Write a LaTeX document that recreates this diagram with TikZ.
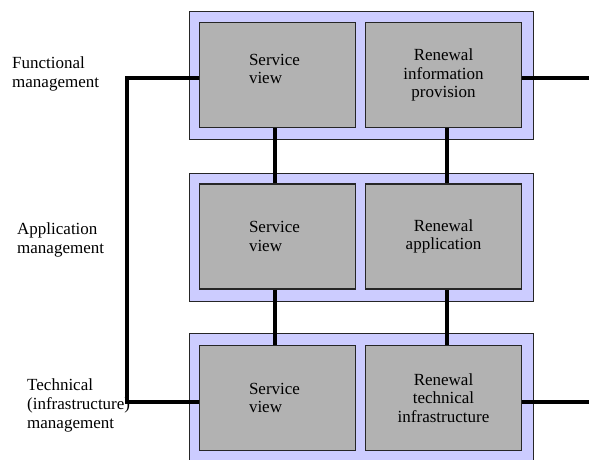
\documentclass[tikz,border=0pt]{standalone}
\usepackage{fontspec}
\setmainfont{Liberation Serif}
\definecolor{lav}{RGB}{204,204,255}
\definecolor{cellgray}{RGB}{178,178,178}
\begin{document}
\begin{tikzpicture}[x=1pt,y=-1pt,
  layer/.style={draw=black!85, line width=0.8pt, fill=lav, minimum width=344pt, minimum height=128pt, inner sep=0pt},
  cell/.style={draw=black!85, line width=1.2pt, fill=cellgray, minimum width=156pt, minimum height=105pt, inner sep=0pt, font=\fontsize{17}{18.7}\selectfont, align=center},
  svtext/.style={text width=57pt, align=left},
  lbl/.style={anchor=west, align=left, inner sep=0pt, font=\fontsize{17}{19}\selectfont},
  bus/.style={line width=4.5pt, line join=miter}]
\useasboundingbox (0,0) rectangle (589,459);
% layers
\node[layer] (L1) at (361,75.5) {};
\node[layer] (L2) at (361,237) {};
\node[layer, minimum height=140pt] (L3) at (361,403) {};
% cells
\node[cell, svtext] (sv1) at (277.5,75) {Service\\view\\[-12pt]\strut};
\node[cell] (rn1) at (443.5,75) {Renewal\\information\\provision};
\node[cell, svtext] (sv2) at (277.5,236.5) {Service\\view};
\node[cell] (rn2) at (443.5,236.5) {Renewal\\application};
\node[cell, svtext] (sv3) at (277.5,398) {Service\\view};
\node[cell] (rn3) at (443.5,398) {Renewal\\technical\\infrastructure};
% labels
\node[lbl] (lf) at (12,74) {Functional\\management};
\node[lbl] (la) at (17,240) {Application\\management};
\node[lbl] (lt) at (27,405) {Technical\\(infrastructure)\\management};
% connectors
\coordinate (busx) at (127,240);
\coordinate (r1) at (589,78);
\coordinate (r3) at (589,402);
\draw[bus] ([yshift=-3pt]sv1.west) -| (busx) |- ([yshift=-4pt]sv3.west);
\draw[bus] ([xshift=-2.5pt]sv1.south) -- ([xshift=-2.5pt]sv2.north);
\draw[bus] ([xshift=-2.5pt]sv2.south) -- ([xshift=-2.5pt]sv3.north);
\draw[bus] ([xshift=3.5pt]rn1.south) -- ([xshift=3.5pt]rn2.north);
\draw[bus] ([xshift=3.5pt]rn2.south) -- ([xshift=3.5pt]rn3.north);
\draw[bus] ([yshift=-3pt]rn1.east) -- (r1);
\draw[bus] ([yshift=-4pt]rn3.east) -- (r3);
\end{tikzpicture}
\end{document}
